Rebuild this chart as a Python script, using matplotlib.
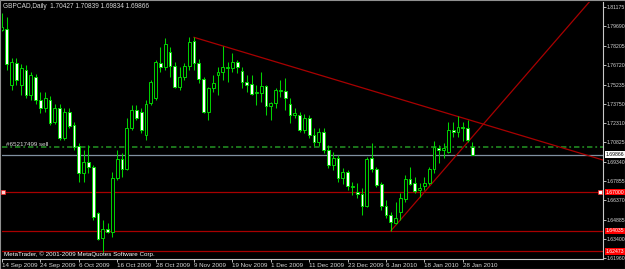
import matplotlib
matplotlib.use("Agg")
import matplotlib.pyplot as plt
import matplotlib.transforms as mtransforms

plt.rcParams['font.family'] = ['Liberation Sans', 'DejaVu Sans']

# ---------------- data ----------------
title_text = "GBPCAD,Daily  1.70427 1.70839 1.69834 1.69866"
copyright_text = "MetaTrader, \u00a9 2001-2009 MetaQuotes Software Corp."

opens = [1.7941, 1.7949, 1.7520, 1.7689, 1.7520, 1.7635, 1.7444, 1.7582, 1.7405, 1.7344,
         1.7405, 1.7237, 1.7344, 1.7115, 1.7314, 1.7214, 1.7053, 1.6847, 1.6931, 1.6893,
         1.6540, 1.6349, 1.6418, 1.6395, 1.6808, 1.6954, 1.6877, 1.7191, 1.7329, 1.7314,
         1.7138, 1.7383, 1.7419, 1.7691, 1.7660, 1.7775, 1.7666, 1.7507, 1.7579, 1.7668,
         1.7859, 1.7691, 1.7569, 1.7316, 1.7495, 1.7597, 1.7618, 1.7653, 1.7653, 1.7699,
         1.7630, 1.7546, 1.7526, 1.7457, 1.7461, 1.7513, 1.7360, 1.7380, 1.7477, 1.7477,
         1.7375, 1.7291, 1.7291, 1.7176, 1.7268, 1.7138, 1.7084, 1.7161, 1.7023, 1.6908,
         1.6961, 1.6808, 1.6854, 1.6740, 1.6704, 1.6684, 1.6594, 1.6959, 1.6875, 1.6760,
         1.6594, 1.6525, 1.6466, 1.6550, 1.6645, 1.6798, 1.6768, 1.6717, 1.6747, 1.6772,
         1.6875, 1.7040, 1.7023, 1.7010, 1.7176, 1.7158, 1.7201, 1.7189, 1.70427]
highs = [1.8071, 1.8041, 1.7727, 1.7727, 1.7681, 1.7673, 1.7620, 1.7605, 1.7467, 1.7467,
         1.7436, 1.7375, 1.7375, 1.7344, 1.7344, 1.7237, 1.7076, 1.7023, 1.7061, 1.6908,
         1.6550, 1.6487, 1.6464, 1.6857, 1.7023, 1.7000, 1.7268, 1.7367, 1.7367, 1.7344,
         1.7405, 1.7559, 1.7712, 1.7814, 1.7880, 1.7814, 1.7696, 1.7660, 1.7689, 1.7890,
         1.7885, 1.7717, 1.7582, 1.7507, 1.7597, 1.7660, 1.7819, 1.7699, 1.7763, 1.7712,
         1.7660, 1.7597, 1.7597, 1.7520, 1.7622, 1.7520, 1.7392, 1.7495, 1.7559, 1.7572,
         1.7419, 1.7344, 1.7314, 1.7298, 1.7291, 1.7191, 1.7191, 1.7191, 1.7061, 1.7007,
         1.6984, 1.6885, 1.6870, 1.6780, 1.6772, 1.6732, 1.6971, 1.7076, 1.6895, 1.6780,
         1.6640, 1.6550, 1.6627, 1.6691, 1.6831, 1.6895, 1.6814, 1.6772, 1.6814, 1.6895,
         1.7092, 1.7061, 1.7079, 1.7239, 1.7239, 1.7283, 1.7239, 1.7252, 1.70839]
lows = [1.7934, 1.7635, 1.7482, 1.7520, 1.7444, 1.7421, 1.7405, 1.7375, 1.7306, 1.7314,
        1.7214, 1.7222, 1.7099, 1.7099, 1.7191, 1.7023, 1.6778, 1.6778, 1.6847, 1.6487,
        1.6334, 1.6244, 1.6387, 1.6359, 1.6793, 1.6818, 1.6870, 1.7176, 1.7252, 1.7153,
        1.7099, 1.7367, 1.7405, 1.7622, 1.7635, 1.7584, 1.7497, 1.7482, 1.7559, 1.7635,
        1.7635, 1.7533, 1.7306, 1.7252, 1.7469, 1.7444, 1.7559, 1.7546, 1.7622, 1.7610,
        1.7495, 1.7469, 1.7444, 1.7367, 1.7392, 1.7291, 1.7252, 1.7342, 1.7431, 1.7329,
        1.7227, 1.7268, 1.7161, 1.7153, 1.7115, 1.7053, 1.7053, 1.7000, 1.6885, 1.6870,
        1.6778, 1.6762, 1.6717, 1.6678, 1.6653, 1.6525, 1.6589, 1.6857, 1.6742, 1.6563,
        1.6500, 1.64035, 1.6456, 1.6487, 1.6627, 1.6755, 1.6691, 1.6665, 1.6717, 1.6755,
        1.6844, 1.6921, 1.6959, 1.6997, 1.7125, 1.7125, 1.7094, 1.7086, 1.69834]
closes = [1.7964, 1.7681, 1.7696, 1.7559, 1.7650, 1.7444, 1.7597, 1.7405, 1.7344, 1.7421,
          1.7229, 1.7344, 1.7115, 1.7314, 1.7206, 1.7046, 1.6847, 1.6931, 1.6893, 1.6510,
          1.6341, 1.6418, 1.6395, 1.6808, 1.6954, 1.6877, 1.7191, 1.7329, 1.7268, 1.7176,
          1.7375, 1.7546, 1.7699, 1.7660, 1.7834, 1.7666, 1.7507, 1.7584, 1.7668, 1.7852,
          1.7691, 1.7564, 1.7316, 1.7495, 1.7533, 1.7618, 1.7660, 1.7660, 1.7699, 1.7660,
          1.7541, 1.7520, 1.7451, 1.7464, 1.7513, 1.7360, 1.7380, 1.7482, 1.7482, 1.7419,
          1.7291, 1.7304, 1.7176, 1.7268, 1.7138, 1.7084, 1.7161, 1.7023, 1.6908, 1.6961,
          1.6808, 1.6854, 1.6747, 1.6747, 1.6686, 1.6594, 1.6952, 1.6877, 1.6755, 1.6594,
          1.6525, 1.6474, 1.6500, 1.6653, 1.6798, 1.6762, 1.6711, 1.6734, 1.6772, 1.6875,
          1.7043, 1.7023, 1.7040, 1.7176, 1.7158, 1.7201, 1.7189, 1.7099, 1.69866]

date_tick_index = [0, 8, 16, 24, 32, 40, 48, 56, 64, 72, 80, 88, 96]
date_tick_labels = ["14 Sep 2009", "24 Sep 2009", "6 Oct 2009", "16 Oct 2009",
                    "28 Oct 2009", "9 Nov 2009", "19 Nov 2009", "1 Dec 2009",
                    "11 Dec 2009", "23 Dec 2009", "6 Jan 2010", "18 Jan 2010",
                    "28 Jan 2010"]
price_ticks = [1.81175, 1.79690, 1.78205, 1.76720, 1.75235, 1.73750, 1.72310,
               1.70825, 1.69340, 1.67855, 1.66370, 1.64885, 1.63400, 1.61960]

bid_price = 1.69866
order_price = 1.70450
order_label = "#65217499 sell"
level_lines = [1.67000, 1.64035, 1.62473]
trend_down_x = [40, 98]
trend_down_y = [1.78854, 1.72460]
trend_up_x = [81, 98]
trend_up_y = [1.64035, 1.71240]

# ---------------- layout ----------------
W, H = 625, 269
fig = plt.figure(figsize=(W / 100, H / 100), dpi=100, facecolor='black')
L, R, T, B = 2, 603, 2, 259
ax = fig.add_axes([L / W, 1 - B / H, (R - L) / W, (B - T) / H], facecolor='black')

bar_px = 4.8
x_max = (R - L) / bar_px
ax.set_xlim(0, x_max)
k = 0.000765538
p0 = 1.817109
ax.set_ylim(p0 - B * k, p0 - T * k)

GREEN = '#00d400'
LINE_RED = '#a80000'
TXT = '#d8d8d8'
FS = 4.5
FS_P = 3.7

# candles
xs = list(range(len(opens)))
ax.vlines(xs, lows, highs, color=GREEN, linewidth=0.75, zorder=3)
bottoms = [min(o, c) for o, c in zip(opens, closes)]
heights = [max(abs(c - o), 0.00005) for o, c in zip(opens, closes)]
faces = ['white' if c < o else 'black' for o, c in zip(opens, closes)]
ax.bar(xs, heights, bottom=bottoms, width=0.62, color=faces, edgecolor=GREEN,
       linewidth=0.7, zorder=4)

# horizontal levels
for lv in level_lines:
    ax.axhline(lv, color=LINE_RED, linewidth=0.9, zorder=2)
ax.axhline(bid_price, color='#8090a0', linewidth=0.9, zorder=2)
ax.axhline(order_price, color='#1f7f1f', linewidth=1.3, linestyle=(0, (3, 1.6, 1, 1.6)), zorder=2)
ax.text(0.8, order_price, order_label, color=TXT, fontsize=FS, va='bottom', ha='left', zorder=6)

# selection markers on first level
ax.plot([0.15], [level_lines[0]], marker='s', ms=2.2, mfc='#ffd0d0', mec='#ff2020', mew=0.5,
        clip_on=False, zorder=7)
ax.plot([x_max - 0.6], [level_lines[0]], marker='s', ms=2.2, mfc='white', mec='#ff2020', mew=0.5,
        clip_on=False, zorder=7)

# trend lines (rays)
def ray(xp, yp, x_end):
    slope = (yp[1] - yp[0]) / (xp[1] - xp[0])
    return [xp[0], x_end], [yp[0], yp[0] + slope * (x_end - xp[0])]

rx, ry = ray(trend_down_x, trend_down_y, x_max)
ax.plot(rx, ry, color=LINE_RED, linewidth=0.9, zorder=2)
rx, ry = ray(trend_up_x, trend_up_y, x_max)
ax.plot(rx, ry, color=LINE_RED, linewidth=0.9, zorder=2)

# axes styling
for s in ['top', 'left']:
    ax.spines[s].set_visible(False)
for s in ['right', 'bottom']:
    ax.spines[s].set_color('#c8c8c8')
    ax.spines[s].set_linewidth(0.8)

ax.yaxis.tick_right()
ax.set_yticks(price_ticks)
ax.set_yticklabels([f"{v:.5f}" for v in price_ticks])
ax.tick_params(axis='y', colors=TXT, labelsize=FS_P, length=2.0, width=0.6, pad=0.6,
               direction='out')
ax.set_xticks(date_tick_index)
ax.set_xticklabels(date_tick_labels)
ax.tick_params(axis='x', colors=TXT, labelsize=FS, length=2.0, width=0.6, pad=0.6,
               direction='out')
for lab in ax.get_xticklabels():
    lab.set_ha('left')

# price boxes on the axis
trans = mtransforms.blended_transform_factory(ax.transAxes, ax.transData)
for lv in level_lines:
    ax.text(1.004, lv, f"{lv:.5f}", transform=trans, color='white', fontsize=FS_P,
            va='center', ha='left', clip_on=False, zorder=10,
            bbox=dict(boxstyle='square,pad=0.15', fc='#ff0000', ec='none'))
ax.text(1.004, bid_price, f"{bid_price:.5f}", transform=trans, color='black', fontsize=FS_P,
        va='center', ha='left', clip_on=False, zorder=10,
        bbox=dict(boxstyle='square,pad=0.15', fc='white', ec='none'))

# texts
fig.text(3 / W, 1 - 6.5 / H, title_text, color=TXT, fontsize=FS + 0.2, va='center', ha='left')
fig.text(4 / W, 1 - 254 / H, copyright_text, color='white', fontsize=FS, va='center', ha='left')

# window border
fig.patches.append(plt.Rectangle((0, 0), 1, 1, transform=fig.transFigure, fill=False,
                                 ec='#909090', lw=0.8))

fig.savefig("out.png", dpi=100, facecolor='black')
